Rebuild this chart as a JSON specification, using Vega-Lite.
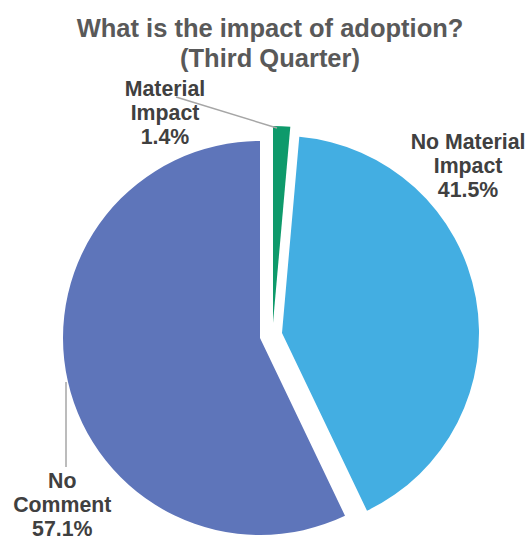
{
  "$schema": "https://vega.github.io/schema/vega-lite/v6.json",
  "width": 530,
  "height": 464,
  "autosize": {"type": "none"},
  "padding": {"left": 0, "top": 76, "right": 0, "bottom": 0},
  "background": "white",
  "config": {"view": {"stroke": null}},
  "title": {
    "text": ["What is the impact of adoption?", "(Third Quarter)"],
    "font": "Liberation Sans",
    "fontSize": 25.5,
    "fontWeight": "bold",
    "color": "#595959",
    "lineHeight": 30,
    "anchor": "middle",
    "dx": 5,
    "offset": 4
  },
  "data": {
    "values": [
      {"category": "Material Impact", "value": 1.4, "label": ["Material", "Impact", "1.4%"]},
      {"category": "No Material Impact", "value": 41.5, "label": ["No Material", "Impact", "41.5%"]},
      {"category": "No Comment", "value": 57.1, "label": ["No", "Comment", "57.1%"]}
    ]
  },
  "transform": [
    {"stack": "value", "groupby": [], "sort": [{"field": "value", "order": "ascending"}], "as": ["v0", "v1"]}
  ],
  "layer": [
    {
      "transform": [{"filter": "datum.category === 'Material Impact'"}],
      "mark": {"type": "arc", "radius": 197, "xOffset": 8, "yOffset": 15},
      "encoding": {
        "theta": {"field": "v0", "type": "quantitative", "stack": null, "scale": {"domain": [0, 100]}},
        "theta2": {"field": "v1"},
        "color": {"field": "category", "type": "nominal", "legend": null,
          "scale": {"domain": ["Material Impact", "No Material Impact", "No Comment"], "range": ["#0E9A6B", "#43AEE2", "#5E75BA"]}}
      }
    },
    {
      "transform": [{"filter": "datum.category === 'No Material Impact'"}],
      "mark": {"type": "arc", "radius": 197, "xOffset": 17, "yOffset": 25},
      "encoding": {
        "theta": {"field": "v0", "type": "quantitative", "stack": null},
        "theta2": {"field": "v1"},
        "color": {"field": "category", "type": "nominal", "legend": null}
      }
    },
    {
      "transform": [{"filter": "datum.category === 'No Comment'"}],
      "mark": {"type": "arc", "radius": 197, "xOffset": -5, "yOffset": 30},
      "encoding": {
        "theta": {"field": "v0", "type": "quantitative", "stack": null},
        "theta2": {"field": "v1"},
        "color": {"field": "category", "type": "nominal", "legend": null}
      }
    },
    {
      "transform": [{"filter": "datum.category === 'Material Impact'"}],
      "mark": {"type": "rule", "color": "#A6A6A6", "strokeWidth": 1.5},
      "encoding": {"x": {"value": 176}, "y": {"value": 21}, "x2": {"value": 277}, "y2": {"value": 52}}
    },
    {
      "transform": [{"filter": "datum.category === 'No Comment'"}],
      "mark": {"type": "rule", "color": "#A6A6A6", "strokeWidth": 1.5},
      "encoding": {"x": {"value": 66}, "y": {"value": 306}, "x2": {"value": 66}, "y2": {"value": 391}}
    },
    {
      "transform": [{"filter": "datum.category === 'Material Impact'"}],
      "mark": {"type": "text", "radius": 218, "dx": -100, "dy": 0, "font": "Liberation Sans", "fontSize": 21.3, "fontWeight": "bold", "lineHeight": 24, "color": "#404040"},
      "encoding": {
        "theta": {"field": "v0", "type": "quantitative", "stack": null},
        "text": {"field": "label"}
      }
    },
    {
      "transform": [{"filter": "datum.category === 'No Material Impact'"}],
      "mark": {"type": "text", "radius": 165.6, "dx": 188.5, "dy": 0, "font": "Liberation Sans", "fontSize": 21.3, "fontWeight": "bold", "lineHeight": 24, "color": "#404040"},
      "encoding": {
        "theta": {"field": "v0", "type": "quantitative", "stack": null},
        "text": {"field": "label"}
      }
    },
    {
      "transform": [{"filter": "datum.category === 'No Comment'"}],
      "mark": {"type": "text", "radius": 193, "dx": -286, "dy": 0, "font": "Liberation Sans", "fontSize": 21.3, "fontWeight": "bold", "lineHeight": 24, "color": "#404040"},
      "encoding": {
        "theta": {"field": "v0", "type": "quantitative", "stack": null},
        "text": {"field": "label"}
      }
    }
  ]
}
